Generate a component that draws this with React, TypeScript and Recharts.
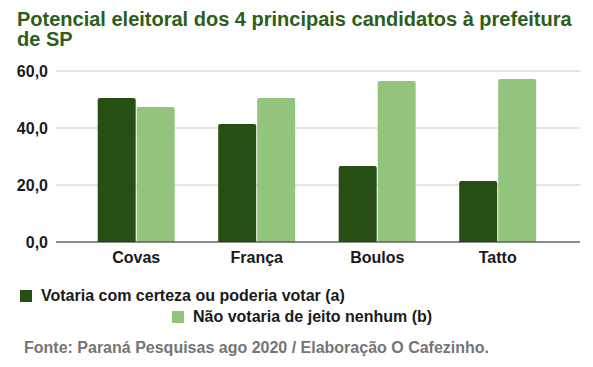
import { BarChart, Bar, XAxis, YAxis, CartesianGrid, Legend } from "recharts";

const candidates = ["Covas", "França", "Boulos", "Tatto"];
const wouldVote = [50.5, 41.4, 26.7, 21.4];
const wouldNotVote = [47.4, 50.5, 56.5, 57.2];
const yTicks = [0, 20, 40, 60];

const DARK = "#274e13";
const LIGHT = "#93c47d";
const FONT = "'Liberation Sans', Arial, sans-serif";

const data = candidates.map((name, i) => ({
  name,
  a: wouldVote[i],
  b: wouldNotVote[i],
}));

function fmt(v: number) {
  return v.toFixed(1).replace(".", ",");
}

function LegendBox() {
  const text = { fontFamily: FONT, fontWeight: 700, fontSize: 16, lineHeight: "18px", color: "#1a1a1a" };
  const sq = (c: string) => (
    <span style={{ display: "inline-block", width: 12, height: 12, background: c, marginRight: 9, verticalAlign: -1 }} />
  );
  return (
    <div style={{ position: "relative", height: 63 }}>
      <div style={{ ...text, position: "absolute", left: 20, top: 15, whiteSpace: "nowrap" }}>
        {sq(DARK)}Votaria com certeza ou poderia votar (a)
      </div>
      <div style={{ ...text, position: "absolute", left: 172, top: 36, whiteSpace: "nowrap" }}>
        {sq(LIGHT)}Não votaria de jeito nenhum (b)
      </div>
    </div>
  );
}

export default function App() {
  return (
    <div style={{ position: "relative", margin: -8, width: 593, height: 367, background: "#fff", overflow: "hidden" }}>
      <div
        style={{
          position: "absolute",
          left: 17,
          top: 9,
          width: 570,
          fontFamily: FONT,
          fontWeight: 700,
          fontSize: 20,
          lineHeight: "20px",
          color: "#2b5e1a",
        }}
      >
        Potencial eleitoral dos 4 principais candidatos à prefeitura de SP
      </div>
      <div style={{ position: "absolute", left: 0, top: 0 }}>
        <BarChart
          width={593}
          height={335}
          data={data}
          margin={{ top: 71, right: 13, bottom: 0, left: 0 }}
          barCategoryGap="18%"
          barGap={1}
        >
          <CartesianGrid vertical={false} stroke="#cccccc" />
          <XAxis
            dataKey="name"
            padding={{ left: 20, right: 22 }}
            axisLine={{ stroke: "#333333" }}
            tickLine={false}
            tickMargin={4}
            height={30}
            tick={{ fontFamily: FONT, fontWeight: 700, fontSize: 16, fill: "#1a1a1a" }}
          />
          <YAxis
            domain={[0, 60]}
            ticks={yTicks}
            tickFormatter={fmt}
            width={56}
            axisLine={false}
            tickLine={false}
            tick={{ fontFamily: FONT, fontWeight: 700, fontSize: 16, fill: "#1a1a1a" }}
          />
          <Legend verticalAlign="bottom" align="left" height={63} content={() => <LegendBox />} wrapperStyle={{ left: 0, bottom: 0 }} />
          <Bar dataKey="a" name="Votaria com certeza ou poderia votar (a)" fill={DARK} radius={[2, 2, 0, 0]} isAnimationActive={false} />
          <Bar dataKey="b" name="Não votaria de jeito nenhum (b)" fill={LIGHT} radius={[2, 2, 0, 0]} isAnimationActive={false} />
        </BarChart>
      </div>
      <div
        style={{
          position: "absolute",
          left: 24,
          top: 339,
          fontFamily: FONT,
          fontWeight: 700,
          fontSize: 16,
          color: "#757575",
          whiteSpace: "nowrap",
        }}
      >
        Fonte: Paraná Pesquisas ago 2020 / Elaboração O Cafezinho.
      </div>
      <div style={{ position: "absolute", left: 0, top: 364, width: 593, height: 1, background: "#9e9e9e" }} />
      <div style={{ position: "absolute", left: 306, top: 364, width: 1, height: 3, background: "#9e9e9e" }} />
    </div>
  );
}
